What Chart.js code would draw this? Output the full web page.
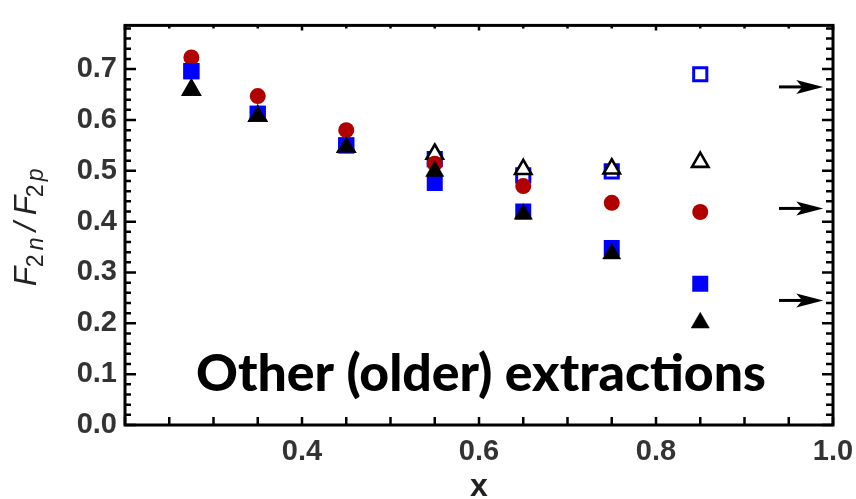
<!DOCTYPE html>
<html><head><meta charset="utf-8">
<script src="https://cdn.jsdelivr.net/npm/chart.js@4.4.0/dist/chart.umd.min.js"></script>
<style>html,body{margin:0;padding:0;background:#fff;}#wrap{width:856px;height:499px;}</style>
</head><body><div id="wrap"><canvas id="c" width="856" height="499"></canvas></div>
<script>
// ---- data ----
const xValues = [0.275, 0.35, 0.45, 0.55, 0.65, 0.75, 0.85];
const redCircles = [0.723, 0.647, 0.580, 0.514, 0.470, 0.437, 0.419];
const blueFilledSquares = [0.696, 0.612, 0.550, 0.476, 0.420, 0.348, 0.278];
const blackFilledTriangles = [0.659, 0.608, 0.547, 0.499, 0.415, 0.337, 0.201];
const blueOpenSquares = [0.696, 0.612, 0.550, 0.523, 0.491, 0.499, 0.690];
const blackOpenTriangles = [0.659, 0.608, 0.547, 0.533, 0.503, 0.504, 0.517];
const arrowLevels = [0.665, 0.426, 0.245];
const arrowStartX = [0.939, 0.939, 0.939];
const arrowEndX = [0.989, 0.989, 0.989];
const xTickLabels = [0.4, 0.6, 0.8, 1.0];
const yTickLabels = [0.0, 0.1, 0.2, 0.3, 0.4, 0.5, 0.6, 0.7];
const xTitle = 'x';
const yTitleParts = [
  {t:'F', sub:false, it:true}, {t:'2', sub:true, it:false}, {t:'n', sub:true, it:true},
  {t:'/', sub:false, it:true}, {t:'F', sub:false, it:true}, {t:'2', sub:true, it:false}, {t:'p', sub:true, it:true}
];
const overlayText = 'Other (older) extractions';

const pts = arr => xValues.map((x, i) => ({x: x, y: arr[i]}));

const framePlugin = {
  id: 'frame',
  afterDatasetsDraw(chart) {
    const {ctx, chartArea: a, scales: {x, y}} = chart;
    ctx.save();
    // arrows
    ctx.fillStyle = '#000'; ctx.strokeStyle = '#000';
    arrowLevels.forEach((v, i) => {
      const yy = y.getPixelForValue(v);
      const x0 = x.getPixelForValue(arrowStartX[i]);
      const x1 = x.getPixelForValue(arrowEndX[i]);
      ctx.lineWidth = 3;
      ctx.beginPath(); ctx.moveTo(x0, yy); ctx.lineTo(x1 - 18, yy); ctx.stroke();
      ctx.beginPath();
      ctx.moveTo(x1, yy); ctx.lineTo(x1 - 27, yy - 7); ctx.lineTo(x1 - 21, yy);
      ctx.lineTo(x1 - 27, yy + 7); ctx.closePath(); ctx.fill();
    });
    // frame
    ctx.lineWidth = 3;
    ctx.strokeRect(a.left, a.top, a.right - a.left, a.bottom - a.top);
    ctx.lineWidth = 2.5;
    ctx.beginPath();
    // y ticks every 0.02, major every 0.1
    for (let k = 0; k <= 39; k++) {
      const v = k * 0.02;
      if (v > y.max) break;
      const p = y.getPixelForValue(v);
      const major = k % 5 === 0;
      ctx.moveTo(a.left, p); ctx.lineTo(a.left + (major ? 11 : 6), p);
      ctx.moveTo(a.right, p); ctx.lineTo(a.right - (major ? 11 : 7), p);
    }
    // x ticks every 0.05
    for (let k = 4; k <= 20; k++) {
      const v = k * 0.05;
      const p = x.getPixelForValue(v);
      const major = k % 4 === 0;
      ctx.moveTo(p, a.bottom); ctx.lineTo(p, a.bottom - 8);
      ctx.moveTo(p, a.top); ctx.lineTo(p, a.top + (major ? 5 : 3));
    }
    ctx.stroke();
    ctx.restore();
  },
  afterDraw(chart) {
    const {ctx, chartArea: a} = chart;
    ctx.save();
    // x title
    ctx.fillStyle = '#222';
    ctx.font = 'bold 32px "Liberation Sans"';
    ctx.textAlign = 'center'; ctx.textBaseline = 'alphabetic';
    ctx.fillText(xTitle, (a.left + a.right) / 2, 496);
    // y title (rotated)
    ctx.translate(36, (a.top + a.bottom) / 2);
    ctx.rotate(-Math.PI / 2);
    const offsets = [0, 19, 36, 55, 71, 89, 105];
    const total = 122;
    yTitleParts.forEach((p, i) => {
      ctx.font = (p.it ? 'italic ' : '') + (p.sub ? '23px' : '32px') + ' "Liberation Sans"';
      ctx.textAlign = 'left';
      ctx.fillText(p.t, -total / 2 + offsets[i], p.sub ? 7 : 0);
    });
    ctx.restore();
    // overlay caption
    ctx.save();
    ctx.fillStyle = '#000';
    ctx.font = '900 52px Lato';
    const w = ctx.measureText(overlayText).width;
    const target = 570;
    ctx.translate(196, 391);
    ctx.scale(target / w, 1);
    ctx.textBaseline = 'alphabetic'; ctx.textAlign = 'left';
    ctx.fillText(overlayText, 0, 0);
    ctx.restore();
  }
};

const tickFont = {family: 'Liberation Sans', size: 29, weight: 'bold'};

new Chart(document.getElementById('c').getContext('2d'), {
  type: 'scatter',
  data: {
    datasets: [
      {label: 'filled triangles', data: pts(blackFilledTriangles), pointStyle: 'triangle', pointRadius: 10.5,
       backgroundColor: '#000', borderColor: '#000', borderWidth: 0.5},
      {label: 'filled squares', data: pts(blueFilledSquares), pointStyle: 'rect', pointRadius: 11.3,
       backgroundColor: '#0000ff', borderColor: '#0000ff', borderWidth: 0},
      {label: 'circles', data: pts(redCircles), pointStyle: 'circle', pointRadius: 8,
       backgroundColor: '#b00000', borderColor: '#b00000', borderWidth: 0},
      {label: 'open triangles', data: pts(blackOpenTriangles), pointStyle: 'triangle', pointRadius: 9.5,
       backgroundColor: '#fff', borderColor: '#000', borderWidth: 2.6},
      {label: 'open squares', data: pts(blueOpenSquares), pointStyle: 'rect', pointRadius: 9.3,
       backgroundColor: '#fff', borderColor: '#0000ff', borderWidth: 3}
    ]
  },
  options: {
    responsive: false, animation: false, devicePixelRatio: 1,
    layout: {padding: {left: 0, right: 23, top: 12, bottom: 0}},
    plugins: {legend: {display: false}, tooltip: {enabled: false}},
    scales: {
      x: {
        type: 'linear', min: 0.2, max: 1.0,
        afterBuildTicks: s => { s.ticks = xTickLabels.map(v => ({value: v})); },
        afterFit: s => { s.height = 74; s.paddingLeft = 0; s.paddingRight = 0; },
        grid: {display: false, drawTicks: false}, border: {display: false},
        ticks: {padding: 10, font: tickFont, color: '#333', maxRotation: 0, autoSkip: false,
                callback: v => Number(v).toFixed(1)}
      },
      y: {
        type: 'linear', min: 0, max: 0.786,
        afterBuildTicks: s => { s.ticks = yTickLabels.map(v => ({value: v})); },
        afterFit: s => { s.width = 125; },
        grid: {display: false, drawTicks: false}, border: {display: false},
        ticks: {padding: 8, font: tickFont, color: '#333', autoSkip: false,
                callback: v => Number(v).toFixed(1)}
      }
    }
  },
  plugins: [framePlugin]
});
</script></body></html>
